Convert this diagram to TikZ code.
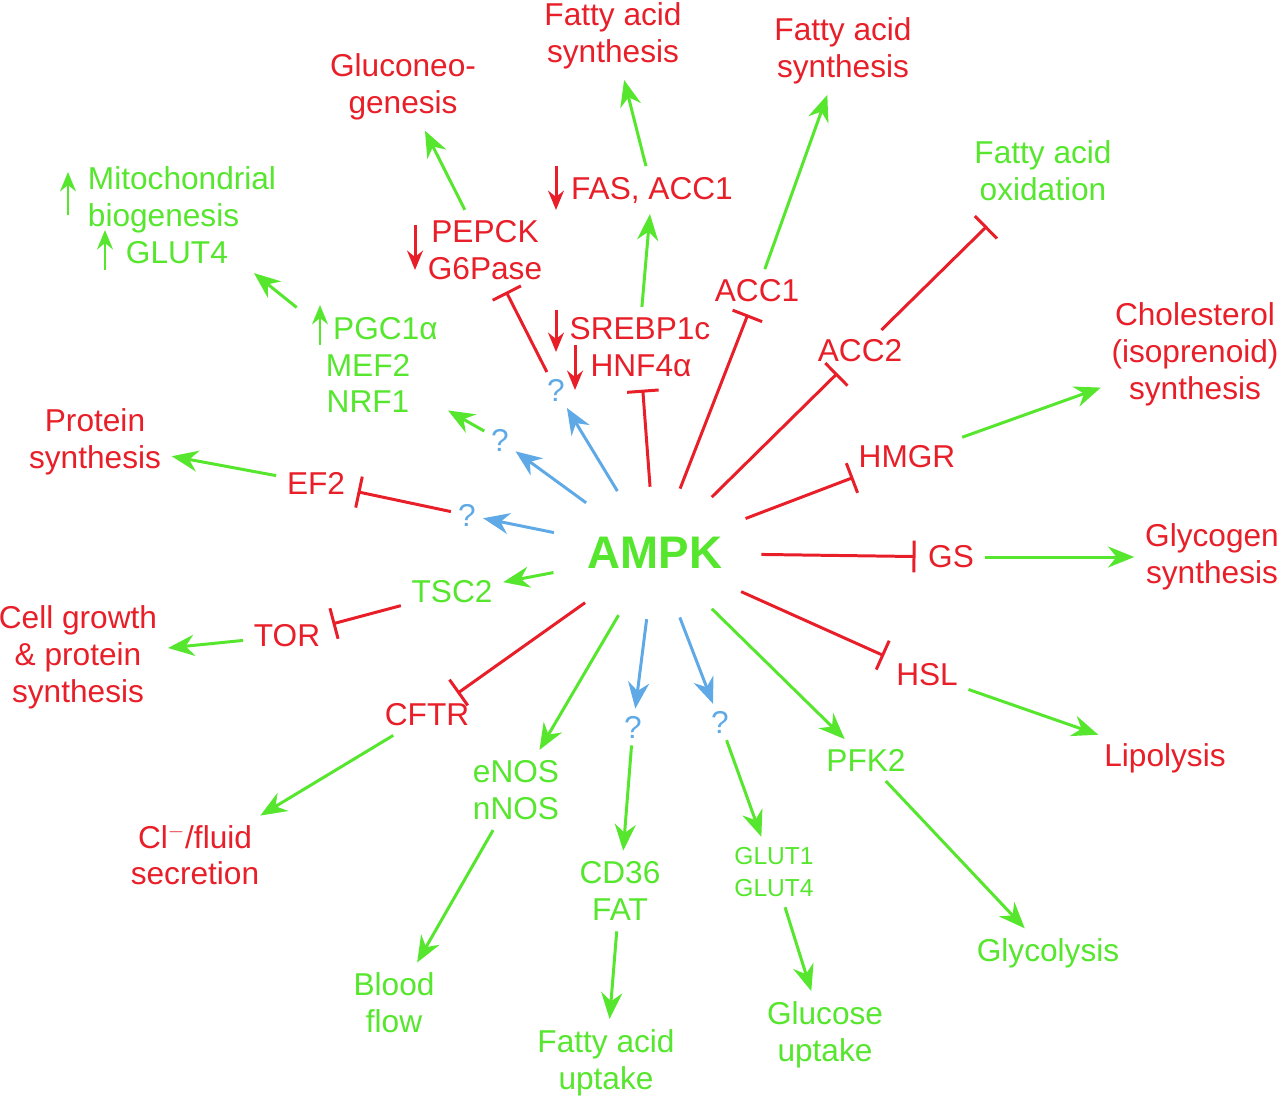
\documentclass[tikz,border=0pt]{standalone}
\usepackage{fontspec}
\setmainfont{Liberation Sans}
\usetikzlibrary{arrows.meta,shapes.geometric}
\definecolor{ired}{RGB}{232,30,40}
\definecolor{igreen}{RGB}{85,230,45}
\definecolor{iblue}{RGB}{95,170,230}
\newcommand{\ualpha}{\char"03B1}
\tikzset{
  lbl/.style={align=center, inner sep=4pt, font=\fontsize{18}{21}\selectfont},
  rl/.style={lbl, text=ired},
  gl/.style={lbl, text=igreen},
  ql/.style={lbl, text=iblue, inner sep=2pt},
  act/.style={igreen, line width=1.7pt, -{Stealth[length=15pt,width=12pt]}, shorten >=2pt, shorten <=2pt},
  qact/.style={act, iblue},
  inh/.style={ired, line width=1.7pt, -{Bar[width=18pt]}, shorten >=3pt, shorten <=2pt},
  updn/.style={line width=1.7pt, -{Stealth[length=11pt,width=9pt]}}
}
\begin{document}
\begin{tikzpicture}[x=0.02cm,y=-0.02cm]
  \useasboundingbox (0,0) rectangle (1280,1099);

  \node[ellipse, minimum width=4.1cm, minimum height=2.5cm, inner sep=0pt, text=igreen, font=\fontsize{26}{30}\selectfont\bfseries] (ampk) at (655,553) {AMPK};

  % right side
  \node[rl] (gs) at (951,557) {GS};
  \node[rl] (glycogen) at (1212,557) {Glycogen\\synthesis};
  \node[rl] (hsl) at (927,675) {HSL};
  \node[rl] (lipo) at (1165,758) {Lipolysis};
  \node[rl] (hmgr) at (907,457) {HMGR};
  \node[rl] (chol) at (1195,354) {Cholesterol\\(isoprenoid)\\synthesis};
  \node[rl] (acc2) at (860,351) {ACC2};
  \node[gl, inner sep=12pt] (fao) at (1043,171) {Fatty acid\\oxidation};
  \node[rl] (acc1) at (757,291) {ACC1};
  \node[rl] (fas2) at (843,51) {Fatty acid\\synthesis};

  % top
  \node[rl] (fas) at (652,190) {FAS, ACC1};
  \node[rl] (fas1) at (613,36) {Fatty acid\\synthesis};
  \node[rl] (srebp) at (640,329) {SREBP1c};
  \node[rl] (hnf) at (641,366) {HNF4\ualpha};
  \node[rl] (pepck) at (485,250) {PEPCK\\G6Pase};
  \node[rl] (gluco) at (403,87) {Gluconeo-\\genesis};
  \node[ql] (q1) at (556,390) {?};
  \node[ql] (q2) at (500,440) {?};
  \node[ql] (q3) at (467,515) {?};
  \node[gl] (pgc) at (368,365) {\hspace*{1.1em}PGC1\ualpha\\MEF2\\NRF1};
  \node[gl, align=left] (mito) at (182,215) {Mitochondrial\\biogenesis\\\hspace*{1.2em}GLUT4};

  % left
  \node[rl] (ef2) at (316,483) {EF2};
  \node[rl] (prot) at (95,442) {Protein\\synthesis};
  \node[gl] (tsc) at (452,592) {TSC2};
  \node[rl] (tor) at (287,636) {TOR};
  \node[rl] (cell) at (78,657) {Cell growth\\\& protein\\synthesis};
  \node[rl] (cftr) at (427,715) {CFTR};
  \node[rl] (cl) at (195,855) {Cl$^{-}$/fluid\\secretion};

  % bottom
  \node[gl] (nos) at (516,790) {eNOS\\nNOS};
  \node[gl] (blood) at (394,1003) {Blood\\flow};
  \node[ql] (q4) at (633,727) {?};
  \node[gl] (cd36) at (620,891) {CD36\\FAT};
  \node[gl] (fau) at (606,1063) {Fatty acid\\uptake};
  \node[ql] (q5) at (720,722) {?};
  \node[gl, font=\fontsize{14}{18}\selectfont] (glut) at (774,872) {GLUT1\\GLUT4};
  \node[gl] (glu) at (825,1035) {Glucose\\uptake};
  \node[gl] (pfk) at (866,760) {PFK2};
  \node[gl] (glyco) at (1048,953) {Glycolysis};

  % connectors
  \draw[inh] (ampk) -- (gs);
  \draw[act] (gs) -- (glycogen);
  \draw[inh] (ampk) -- (hsl);
  \draw[act] (hsl) -- (lipo);
  \draw[inh] (ampk) -- (hmgr);
  \draw[act] (hmgr) -- (chol);
  \draw[inh] (ampk) -- (acc2);
  \draw[inh] (acc2) -- (fao);
  \draw[inh] (ampk) -- (acc1);
  \draw[act] (acc1) -- (fas2);
  \draw[inh] (ampk) -- (hnf);
  \draw[act] (srebp) -- (fas);
  \draw[act] (fas) -- (fas1);
  \draw[qact] (ampk) -- (q1);
  \draw[inh] (q1) -- (pepck);
  \draw[act] (pepck) -- (gluco);
  \draw[qact] (ampk) -- (q2);
  \draw[act] (q2) -- (pgc);
  \draw[act] (pgc) -- (mito);
  \draw[qact] (ampk) -- (q3);
  \draw[inh] (q3) -- (ef2);
  \draw[act] (ef2) -- (prot);
  \draw[act] (ampk) -- (tsc);
  \draw[inh] (tsc) -- (tor);
  \draw[act] (tor) -- (cell);
  \draw[inh] (ampk) -- (cftr);
  \draw[act] (cftr) -- (cl);
  \draw[act] (ampk) -- (nos);
  \draw[act] (nos) -- (blood);
  \draw[qact] (ampk) -- (q4);
  \draw[act] (q4) -- (cd36);
  \draw[act] (cd36) -- (fau);
  \draw[qact] (ampk) -- (q5);
  \draw[act] (q5) -- (glut);
  \draw[act] (glut) -- (glu);
  \draw[act] (ampk) -- (pfk);
  \draw[act] (pfk) -- (glyco);

  % up and down markers
  \draw[updn, ired] (556,166) -- (556,210);
  \draw[updn, ired] (415,225) -- (415,270);
  \draw[updn, ired] (556,310) -- (556,352);
  \draw[updn, ired] (575,345) -- (575,390);
  \draw[updn, igreen] (68,215) -- (68,172);
  \draw[updn, igreen] (105,270) -- (105,230);
  \draw[updn, igreen] (320,345) -- (320,305);
\end{tikzpicture}
\end{document}
